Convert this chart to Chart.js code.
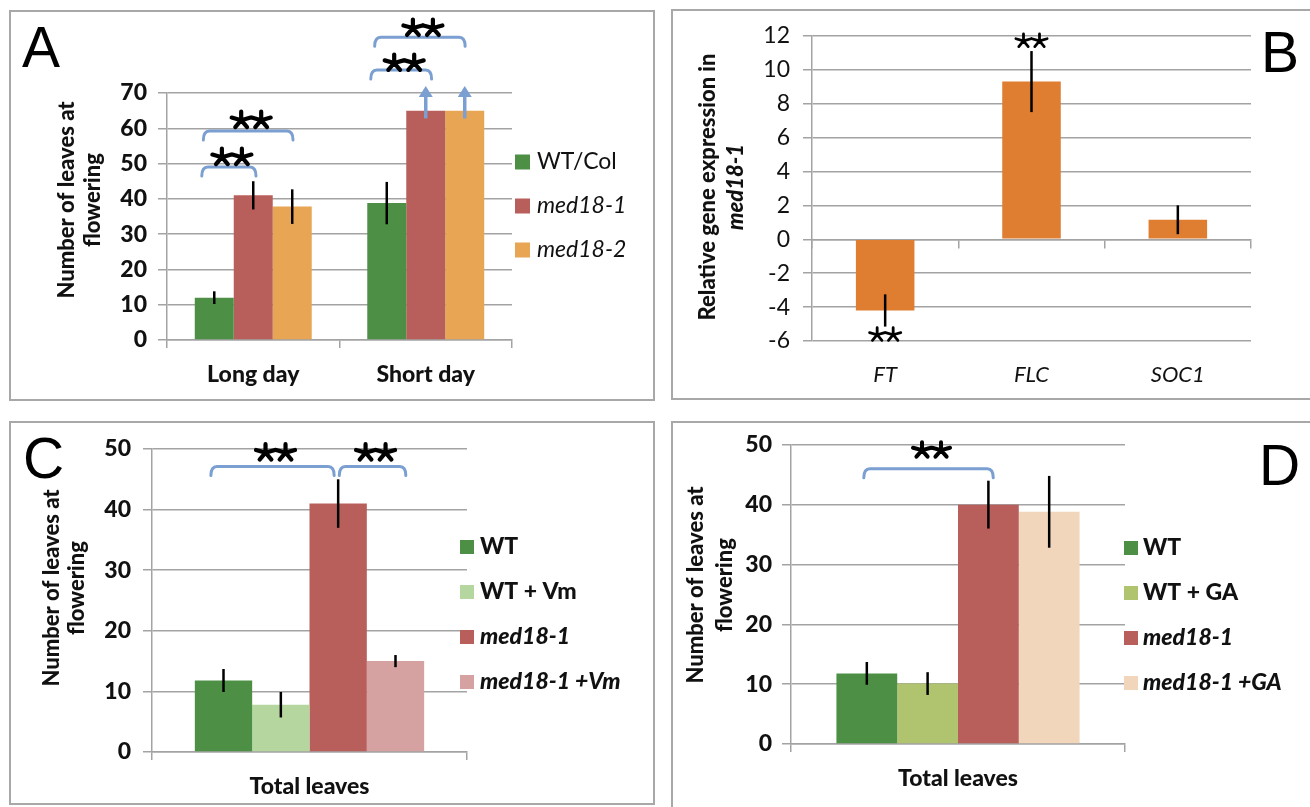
<!DOCTYPE html>
<html>
<head>
<meta charset="utf-8">
<script src="https://cdn.jsdelivr.net/npm/chart.js@4.4.1/dist/chart.umd.min.js"></script>
<style>
  html, body { margin:0; padding:0; background:#fff; overflow:hidden; width:1310px; height:807px; }
  canvas { position:absolute; outline:2px solid #a8a8a8; outline-offset:-2px; }
</style>
</head>
<body>
<canvas id="chartA" width="646" height="391" style="left:9px;top:10px"></canvas>
<canvas id="chartB" width="660" height="391" style="left:671px;top:9px"></canvas>
<canvas id="chartC" width="646" height="384" style="left:9px;top:421px"></canvas>
<canvas id="chartD" width="660" height="400" style="left:671px;top:421px"></canvas>
<script>
// ---------------- data ----------------
// A: leaves at flowering, long vs short day
const dayLabels = ['Long day', 'Short day'];
const aWT = [12, 38.8];
const aMed1 = [41, 65];
const aMed2 = [37.8, 65];
const aWTErr = [1.8, 6];
const aMed1Err = [4, null];
const aMed2Err = [4.9, null];

// B: relative expression in med18-1
const geneLabels = ['FT', 'FLC', 'SOC1'];
const geneExpr = [-4.2, 9.3, 1.15];
const geneErr = [0.95, 1.8, 0.85];

// C: vernalization
const cSeries = ['WT', 'WT + Vm', 'med18-1', 'med18-1 +Vm'];
const cLeaves = [11.8, 7.8, 41, 15];
const cErr = [1.9, 2.1, 4, 1];

// D: gibberellin
const dSeries = ['WT', 'WT + GA', 'med18-1', 'med18-1 +GA'];
const dLeaves = [11.8, 10.1, 40, 38.8];
const dErr = [1.9, 1.9, 4, 6];

const totalLabel = ['Total leaves'];

// significance brackets (values on the y scale)
const aBrackets = [
  {cat:0, from:0, to:1, y:49,   label:51.8, fromOff:-0.32, toOff:0.07},
  {cat:0, from:0, to:2, y:59.2, label:62.3, fromOff:-0.28, toOff:0.02},
  {cat:1, from:0, to:1, y:76.5, label:78.5, fromOff:-0.41, toOff:0.15},
  {cat:1, from:0, to:2, y:85.8, label:88.4, fromOff:-0.31, toOff:0.01}
];
const aArrows = [{cat:1, ds:1, from:62.8, to:72}, {cat:1, ds:2, from:62.8, to:72}];
const bStars = [{cat:0, y:-5.63}, {cat:1, y:11.7}];
const cBrackets = [
  {cat:0, from:0, to:2, y:47.1, label:49.4, fromOff:-0.22, toOff:-0.07},
  {cat:0, from:2, to:3, y:47.1, label:49.4, fromOff:0.02, toOff:0.18}
];
const dBrackets = [
  {cat:0, from:0, to:2, y:46, label:49.1, fromOff:-0.05, toOff:0.08}
];

// ---------------- styling ----------------
const FONT = 'Lato, "Open Sans", sans-serif';
const GREEN = '#4d8f45', RED = '#b95f5b', ORANGE = '#e8a553', B_ORANGE = '#df7d31';
const LIGHTGREEN = '#b6d6a0', PINK = '#d6a2a1', OLIVE = '#b0c46f', PEACH = '#f2d6bc';
const BRACKET = '#7b9fd1', GRID = '#a3a3a3', TXT = '#111';
const HEAVY = '900';

// heavy 5-armed asterisk, like the ones in the figure
function asterisk(ctx, cx, cy, rx, ry, lw) {
  ctx.beginPath();
  for (let k = 0; k < 5; k++) {
    const a = -Math.PI / 2 + k * 2 * Math.PI / 5;
    ctx.moveTo(cx, cy);
    ctx.lineTo(cx + rx * Math.cos(a), cy + ry * Math.sin(a));
  }
  ctx.lineWidth = lw;
  ctx.lineCap = 'round';
  ctx.strokeStyle = '#000';
  ctx.stroke();
}
function twoStars(ctx, cx, cy, st) {
  asterisk(ctx, cx - st.gap / 2, cy, st.rx, st.ry, st.lw);
  asterisk(ctx, cx + st.gap / 2, cy, st.rx, st.ry, st.lw);
}

const decor = {
  id: 'decor',
  afterDatasetsDraw(chart, args, o) {
    const ctx = chart.ctx, ys = chart.scales.y;
    ctx.save();
    // error bars
    chart.data.datasets.forEach((ds, di) => {
      if (!ds.errors) return;
      chart.getDatasetMeta(di).data.forEach((bar, i) => {
        const e = ds.errors[i];
        if (e == null) return;
        const v = ds.data[i];
        ctx.beginPath();
        ctx.strokeStyle = '#000';
        ctx.lineWidth = 2.5;
        ctx.lineCap = 'butt';
        ctx.moveTo(bar.x, ys.getPixelForValue(v - e));
        ctx.lineTo(bar.x, ys.getPixelForValue(v + e));
        ctx.stroke();
      });
    });
    // brackets
    (o.brackets || []).forEach(b => {
      const b1 = chart.getDatasetMeta(b.from).data[b.cat];
      const b2 = chart.getDatasetMeta(b.to).data[b.cat];
      const x1 = b1.x + b.fromOff * b1.width, x2 = b2.x + b.toOff * b2.width;
      const yl = ys.getPixelForValue(b.y), drop = 9, r = 6;
      ctx.beginPath();
      ctx.strokeStyle = BRACKET;
      ctx.lineWidth = 3;
      ctx.lineCap = 'round';
      ctx.moveTo(x1, yl + drop);
      ctx.quadraticCurveTo(x1, yl, x1 + r, yl);
      ctx.lineTo(x2 - r, yl);
      ctx.quadraticCurveTo(x2, yl, x2, yl + drop);
      ctx.stroke();
      twoStars(ctx, (x1 + x2) / 2 + 3, ys.getPixelForValue(b.label), o.star);
    });
    // arrows
    (o.arrows || []).forEach(a => {
      const bar = chart.getDatasetMeta(a.ds).data[a.cat];
      const y1 = ys.getPixelForValue(a.from), y2 = ys.getPixelForValue(a.to);
      ctx.strokeStyle = BRACKET;
      ctx.fillStyle = BRACKET;
      ctx.lineWidth = 3.5;
      ctx.lineCap = 'butt';
      ctx.beginPath();
      ctx.moveTo(bar.x, y1);
      ctx.lineTo(bar.x, y2 + 8);
      ctx.stroke();
      ctx.beginPath();
      ctx.moveTo(bar.x, y2);
      ctx.lineTo(bar.x - 7, y2 + 11);
      ctx.lineTo(bar.x + 7, y2 + 11);
      ctx.closePath();
      ctx.fill();
    });
    // lone stars
    (o.stars || []).forEach(s => {
      const bar = chart.getDatasetMeta(0).data[s.cat];
      twoStars(ctx, bar.x, ys.getPixelForValue(s.y), o.star);
    });
    ctx.restore();
  },
  afterDraw(chart, args, o) {
    const ctx = chart.ctx;
    ctx.save();
    ctx.fillStyle = TXT;
    // rotated y title
    o.title.forEach(t => {
      ctx.save();
      ctx.translate(t.x, o.titleY);
      ctx.rotate(-Math.PI / 2);
      ctx.font = t.font;
      ctx.textAlign = 'center';
      ctx.textBaseline = 'middle';
      ctx.fillText(t.text, 0, 0);
      ctx.restore();
    });
    // legend
    if (o.legend) {
      const L = o.legend;
      chart.data.datasets.forEach((ds, i) => {
        const yc = L.y + i * L.step;
        ctx.fillStyle = ds.backgroundColor;
        ctx.fillRect(L.x, yc - L.box / 2, L.box, L.box);
        ctx.fillStyle = TXT;
        ctx.font = L.fonts[i];
        ctx.textAlign = 'left';
        ctx.textBaseline = 'middle';
        ctx.fillText(ds.label, L.x + L.box + L.gap, yc);
      });
    }
    // panel letter
    ctx.fillStyle = '#000';
    ctx.font = '400 57px "Liberation Sans", Arial, sans-serif';
    ctx.textAlign = 'left';
    ctx.textBaseline = 'alphabetic';
    ctx.fillText(o.letter.text, o.letter.x, o.letter.y);
    ctx.restore();
  }
};

function yAxis(min, max, step, width, pad, font) {
  return {
    min: min, max: max,
    ticks: {stepSize: step, font: font, color: TXT, padding: pad},
    grid: {color: GRID, lineWidth: 1.5, tickLength: 9},
    border: {color: GRID, width: 1.5},
    afterFit: s => { s.width = width; }
  };
}
function xAxis(height, font, showGrid) {
  return {
    ticks: {font: font, color: TXT, padding: 13},
    grid: {display: showGrid, drawOnChartArea: false, color: GRID, lineWidth: 1.5, tickLength: 8, offset: true},
    border: {display: showGrid, color: GRID, width: 1.5},
    afterFit: s => { s.height = height; }
  };
}
const boldTick = {family: FONT, size: 23, weight: HEAVY};
const titleFont = HEAVY + ' 22px ' + FONT;
const common = {responsive: false, animation: false};
const bigStar = {rx: 10, ry: 8.5, lw: 4.2, gap: 20};

// ---------------- Panel A ----------------
new Chart(document.getElementById('chartA'), {
  type: 'bar',
  data: {
    labels: dayLabels,
    datasets: [
      {label: 'WT/Col', data: aWT, errors: aWTErr, backgroundColor: GREEN},
      {label: 'med18-1', data: aMed1, errors: aMed1Err, backgroundColor: RED},
      {label: 'med18-2', data: aMed2, errors: aMed2Err, backgroundColor: ORANGE}
    ]
  },
  options: Object.assign({}, common, {
    layout: {padding: {top: 83, right: 143, left: 0, bottom: 0}},
    datasets: {bar: {barPercentage: 1, categoryPercentage: 0.678}},
    scales: {x: xAxis(61, boldTick, true), y: yAxis(0, 70, 10, 158, 11, boldTick)},
    plugins: {
      legend: {display: false}, tooltip: {enabled: false},
      decor: {
        brackets: aBrackets, arrows: aArrows, star: bigStar,
        title: [
          {text: 'Number of leaves at', x: 58, font: titleFont},
          {text: 'flowering', x: 84, font: titleFont}
        ],
        titleY: 190,
        legend: {x: 506, y: 152, step: 44, box: 15, gap: 7,
          fonts: ['23px ' + FONT, 'italic 23px ' + FONT, 'italic 23px ' + FONT]},
        letter: {text: 'A', x: 13, y: 57}
      }
    }
  }),
  plugins: [decor]
});

// ---------------- Panel B ----------------
new Chart(document.getElementById('chartB'), {
  type: 'bar',
  data: {
    labels: geneLabels,
    datasets: [{label: 'Relative expression', data: geneExpr, errors: geneErr, backgroundColor: B_ORANGE}]
  },
  options: Object.assign({}, common, {
    layout: {padding: {top: 23, right: 80, left: 0, bottom: 0}},
    datasets: {bar: {barPercentage: 1, categoryPercentage: 0.4}},
    scales: {
      x: xAxis(59, {family: FONT, size: 22, style: 'italic'}, false),
      x2: {
        position: {y: 0}, offset: true,
        ticks: {display: false},
        grid: {drawOnChartArea: false, color: GRID, lineWidth: 1.5, tickLength: 8, offset: true},
        border: {color: GRID, width: 1.5}
      },
      y: yAxis(-6, 12, 2, 141, 13, {family: FONT, size: 23})
    },
    plugins: {
      legend: {display: false}, tooltip: {enabled: false},
      decor: {
        stars: bStars, star: {rx: 8, ry: 7, lw: 2.8, gap: 16},
        title: [
          {text: 'Relative gene expression in', x: 37, font: titleFont},
          {text: 'med18-1', x: 65, font: 'italic ' + titleFont}
        ],
        titleY: 178,
        letter: {text: 'B', x: 590, y: 63}
      }
    }
  }),
  plugins: [decor]
});

// ---------------- Panel C ----------------
new Chart(document.getElementById('chartC'), {
  type: 'bar',
  data: {
    labels: totalLabel,
    datasets: [
      {label: cSeries[0], data: [cLeaves[0]], errors: [cErr[0]], backgroundColor: GREEN},
      {label: cSeries[1], data: [cLeaves[1]], errors: [cErr[1]], backgroundColor: LIGHTGREEN},
      {label: cSeries[2], data: [cLeaves[2]], errors: [cErr[2]], backgroundColor: RED},
      {label: cSeries[3], data: [cLeaves[3]], errors: [cErr[3]], backgroundColor: PINK}
    ]
  },
  options: Object.assign({}, common, {
    layout: {padding: {top: 28, right: 188, left: 0, bottom: 0}},
    datasets: {bar: {barPercentage: 1, categoryPercentage: 0.728}},
    scales: {x: xAxis(53, boldTick, true), y: yAxis(0, 50, 10, 143, 12, boldTick)},
    plugins: {
      legend: {display: false}, tooltip: {enabled: false},
      decor: {
        brackets: cBrackets, star: bigStar,
        title: [
          {text: 'Number of leaves at', x: 43, font: titleFont},
          {text: 'flowering', x: 68, font: titleFont}
        ],
        titleY: 167,
        legend: {x: 451, y: 126, step: 45, box: 14, gap: 6,
          fonts: [HEAVY + ' 23px ' + FONT, HEAVY + ' 23px ' + FONT, 'italic ' + HEAVY + ' 23px ' + FONT, 'italic ' + HEAVY + ' 23px ' + FONT]},
        letter: {text: 'C', x: 14, y: 57}
      }
    }
  }),
  plugins: [decor]
});

// ---------------- Panel D ----------------
new Chart(document.getElementById('chartD'), {
  type: 'bar',
  data: {
    labels: totalLabel,
    datasets: [
      {label: dSeries[0], data: [dLeaves[0]], errors: [dErr[0]], backgroundColor: GREEN},
      {label: dSeries[1], data: [dLeaves[1]], errors: [dErr[1]], backgroundColor: OLIVE},
      {label: dSeries[2], data: [dLeaves[2]], errors: [dErr[2]], backgroundColor: RED},
      {label: dSeries[3], data: [dLeaves[3]], errors: [dErr[3]], backgroundColor: PEACH}
    ]
  },
  options: Object.assign({}, common, {
    layout: {padding: {top: 16, right: 206, left: 0, bottom: 0}},
    datasets: {bar: {barPercentage: 1, categoryPercentage: 0.728}},
    scales: {x: xAxis(77, boldTick, true), y: yAxis(0, 50, 10, 120, 10, boldTick)},
    plugins: {
      legend: {display: false}, tooltip: {enabled: false},
      decor: {
        brackets: dBrackets, star: {rx: 9.5, ry: 8, lw: 4, gap: 19},
        title: [
          {text: 'Number of leaves at', x: 25, font: titleFont},
          {text: 'flowering', x: 54, font: titleFont}
        ],
        titleY: 164,
        legend: {x: 453, y: 127, step: 45, box: 14, gap: 5,
          fonts: [HEAVY + ' 23px ' + FONT, HEAVY + ' 23px ' + FONT, 'italic ' + HEAVY + ' 23px ' + FONT, 'italic ' + HEAVY + ' 23px ' + FONT]},
        letter: {text: 'D', x: 588, y: 64}
      }
    }
  }),
  plugins: [decor]
});
</script>
</body>
</html>
